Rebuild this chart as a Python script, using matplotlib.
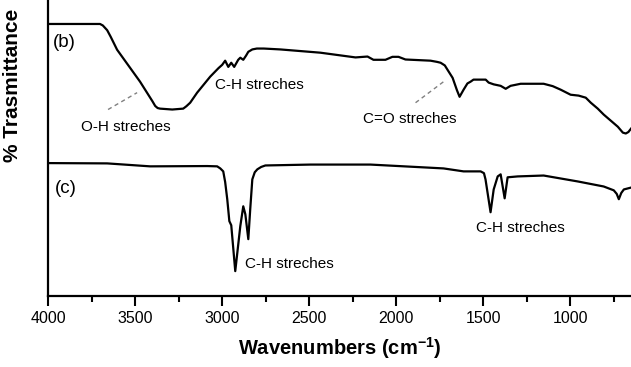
import numpy as np
import matplotlib
matplotlib.use("Agg")
import matplotlib.pyplot as plt

plt.rcParams['font.family'] = ['Liberation Sans', 'DejaVu Sans']

# Spectrum (b): wavenumber (cm-1) and transmittance (arbitrary units)
wn_b = [4000, 3701, 3685, 3660, 3640, 3603, 3471, 3400, 3384, 3370, 3356, 3286,
        3223, 3205, 3183, 3143, 3068, 3020, 2999, 2982, 2964, 2947, 2930, 2907,
        2895, 2878, 2862, 2849, 2826, 2800, 2760, 2665, 2435, 2233, 2164, 2130,
        2061, 2021, 1986, 1946, 1802, 1765, 1744, 1720, 1704, 1675, 1650, 1635,
        1612, 1590, 1572, 1555, 1485, 1468, 1439, 1399, 1370, 1342, 1284, 1152,
        1100, 1054, 997, 951, 910, 881, 841, 807, 726, 697, 680, 665, 645]
tr_b = [91.9, 91.9, 91.4, 89.8, 87.6, 83.2, 72.4, 65.8, 64.2, 63.5, 63.3, 63.0,
        63.3, 64.1, 65.3, 68.7, 74.1, 77.0, 78.1, 79.5, 77.4, 78.8, 77.4, 79.8,
        80.5, 79.8, 81.2, 82.5, 83.3, 83.6, 83.6, 83.3, 82.2, 80.6, 80.9, 79.8,
        79.8, 80.8, 80.8, 79.9, 79.5, 79.1, 78.8, 77.9, 76.4, 73.7, 69.5, 67.3,
        69.7, 71.8, 72.4, 73.1, 73.1, 72.1, 71.5, 71.0, 70.0, 71.0, 71.7, 71.7,
        70.9, 69.7, 68.0, 67.7, 67.0, 65.3, 63.3, 61.3, 57.2, 55.2, 54.9, 55.4,
        56.9]

# Spectrum (c)
wn_c = [4000, 3660, 3413, 3085, 3028, 3010, 2993, 2982, 2970, 2958, 2947, 2935,
        2924, 2895, 2878, 2866, 2849, 2838, 2826, 2812, 2797, 2775, 2751, 2492,
        2147, 1727, 1612, 1514, 1495, 1486, 1457, 1439, 1416, 1399, 1376, 1359,
        1301, 1152, 956, 807, 749, 732, 720, 706, 691, 645]
tr_c = [44.9, 44.8, 43.8, 43.9, 43.8, 43.1, 42.1, 38.5, 32.7, 25.3, 23.9, 15.8,
        8.4, 23.6, 30.3, 27.6, 19.2, 29.3, 39.4, 41.8, 42.8, 43.6, 44.1, 44.4,
        44.4, 43.1, 42.1, 42.1, 41.5, 39.4, 28.3, 36.0, 40.4, 41.1, 33.0, 40.1,
        40.4, 40.7, 38.7, 37.0, 35.7, 34.5, 32.7, 34.8, 36.0, 36.7]

# Annotations: text, wavenumber, transmittance
labels = ['(b)', '(c)', 'O-H streches', 'C-H streches', 'C=O streches',
          'C-H streches', 'C-H streches']
label_wn = [3971, 3960, 3551, 2786, 1923, 2613, 1284]
label_tr = [85.5, 36.4, 57.2, 71.4, 59.9, 10.8, 22.9]
label_ha = ['left', 'left', 'center', 'center', 'center', 'center', 'center']

# dashed pointer lines
oh_line = ([3655, 3488], [63.0, 68.7])
co_line = ([1888, 1727], [65.3, 72.4])

fig = plt.figure(figsize=(6.31, 3.67), dpi=100)
ax = fig.add_axes([48 / 631, 71 / 367, 1 - 48 / 631, 1 - 71 / 367])

ax.plot(wn_b, tr_b, color='black', lw=1.6, solid_joinstyle='round')
ax.plot(wn_c, tr_c, color='black', lw=1.6, solid_joinstyle='round')
ax.plot(*oh_line, color='gray', lw=1, ls=(0, (3, 2.5)))
ax.plot(*co_line, color='gray', lw=1, ls=(0, (3, 2.5)))

for t, x, y, ha in zip(labels, label_wn, label_tr, label_ha):
    size = 13.5 if t.startswith('(') else 11
    ax.text(x, y, t, ha=ha, va='center', fontsize=size)

ax.set_xlim(4000, 650)
ax.set_ylim(0, 100)
ax.set_xticks([4000, 3500, 3000, 2500, 2000, 1500, 1000])
ax.set_xticks(np.arange(3750, 650, -500), minor=True)
ax.set_yticks([])
ax.tick_params(axis='x', which='major', direction='out', length=7, width=1.5,
               labelsize=11.5, pad=4)
ax.tick_params(axis='x', which='minor', direction='out', length=4, width=1.5)

for s in ['top', 'right']:
    ax.spines[s].set_visible(False)
for s in ['left', 'bottom']:
    ax.spines[s].set_linewidth(1.6)

ax.set_xlabel('Wavenumbers (cm$^{\\mathregular{-1}}$)', fontsize=14.5,
              fontweight='bold', labelpad=6)
ax.set_ylabel('% Trasmittance', fontsize=15, fontweight='bold')
ax.yaxis.set_label_coords(-0.045, 0.71)

fig.savefig('out.png', dpi=100)
